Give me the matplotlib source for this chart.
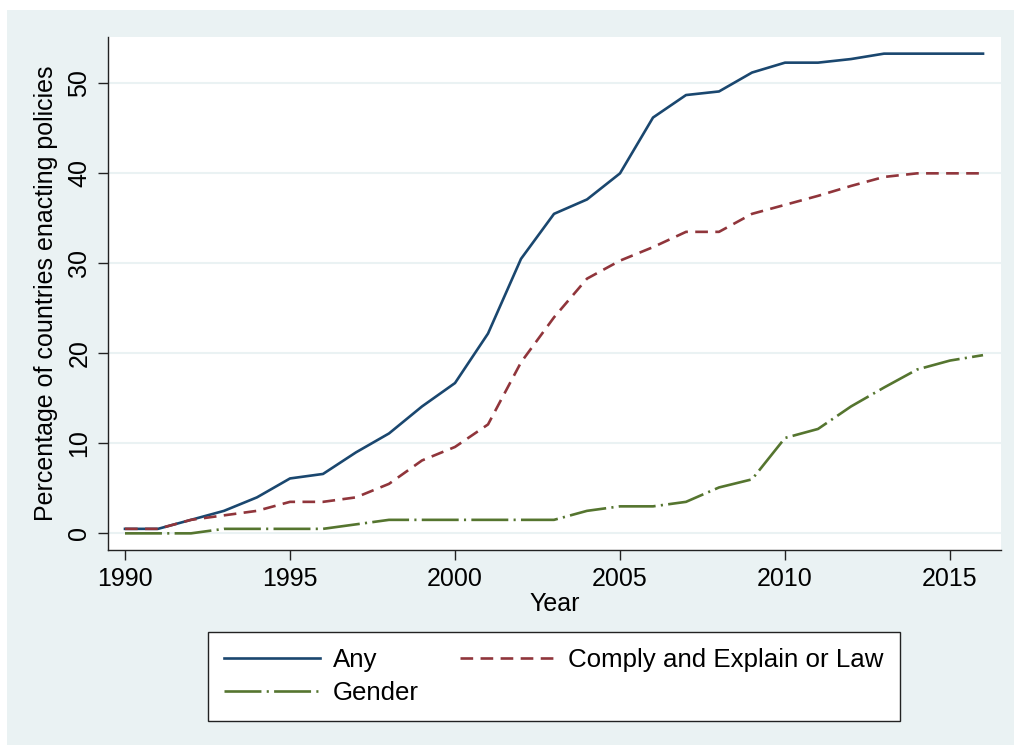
import numpy as np
import matplotlib
matplotlib.use('Agg')
import matplotlib.pyplot as plt
from matplotlib.patches import Rectangle

plt.rcParams['font.family'] = ['Liberation Sans', 'DejaVu Sans']

years = list(range(1990, 2017))
any_policy = [0.5, 0.5, 1.5, 2.5, 4.0, 6.1, 6.6, 9.0, 11.1, 14.1, 16.7, 22.2, 30.5, 35.5,
              37.1, 40.0, 46.2, 48.7, 49.1, 51.2, 52.3, 52.3, 52.7, 53.3, 53.3, 53.3, 53.3]
comply_law = [0.5, 0.5, 1.5, 2.0, 2.5, 3.5, 3.5, 4.0, 5.5, 8.1, 9.6, 12.1, 19.0, 24.0,
              28.3, 30.3, 31.8, 33.5, 33.5, 35.5, 36.5, 37.5, 38.6, 39.6, 40.0, 40.0, 40.0]
gender = [0.0, 0.0, 0.0, 0.5, 0.5, 0.5, 0.5, 1.0, 1.5, 1.5, 1.5, 1.5, 1.5, 1.5,
          2.5, 3.0, 3.0, 3.5, 5.1, 6.0, 10.6, 11.6, 14.1, 16.2, 18.2, 19.2, 19.8]

xticks = [1990, 1995, 2000, 2005, 2010, 2015]
yticks = [0, 10, 20, 30, 40, 50]

navy = '#1a476f'
maroon = '#90353b'
green = '#55752f'
bg = '#eaf2f3'

fig = plt.figure(figsize=(10.14, 7.45), dpi=100, facecolor='white')
fig.patches.append(Rectangle((7/1014, 0), 1 - 7/1014, 1 - 10/745,
                             transform=fig.transFigure, facecolor=bg,
                             edgecolor='none', zorder=-10))

ax = fig.add_axes([108/1014, 1 - 550/745, (1001 - 108)/1014, (550 - 37)/745])
ax.set_facecolor('white')

l1, = ax.plot(years, any_policy, color=navy, lw=1.9, label='Any')
l2, = ax.plot(years, comply_law, color=maroon, lw=1.9, dashes=(4.8, 2.8),
              label='Comply and Explain or Law')
l3, = ax.plot(years, gender, color=green, lw=1.9, dashes=(14, 2, 0.8, 2),
              label='Gender')

ax.set_xlim(1989.485, 2016.545)
ax.set_ylim(-1.85, 55.15)
ax.set_xticks(xticks)
ax.set_yticks(yticks)
ax.yaxis.grid(True, color=bg, lw=1.5)
ax.set_axisbelow(True)

for s in ['top', 'right']:
    ax.spines[s].set_visible(False)
for s in ['left', 'bottom']:
    ax.spines[s].set_color('#222222')
    ax.spines[s].set_linewidth(1.0)

ax.tick_params(length=7, width=1, color='#222222', labelsize=18, pad=5)
for lab in ax.get_yticklabels():
    lab.set_rotation(90)
    lab.set_va('center')
    lab.set_ha('right')

ax.set_xlabel('Year', fontsize=18, labelpad=1)
ax.set_ylabel('Percentage of countries enacting policies', fontsize=18, labelpad=7)

leg = fig.legend([l1, l3, l2], ['Any', 'Gender', 'Comply and Explain or Law'],
                 ncol=2, loc='upper left',
                 bbox_to_anchor=(208/1014, 1 - 632/745),
                 bbox_transform=fig.transFigure,
                 fontsize=18.6, frameon=True, fancybox=False, framealpha=1,
                 facecolor='white',
                 handlelength=3.7, handletextpad=0.5, columnspacing=1.6,
                 borderpad=0.62, labelspacing=0.35, borderaxespad=0)
leg.get_frame().set_edgecolor('#222222')
leg.get_frame().set_linewidth(1.0)

fig.savefig('out.png', dpi=100, facecolor=fig.get_facecolor())
